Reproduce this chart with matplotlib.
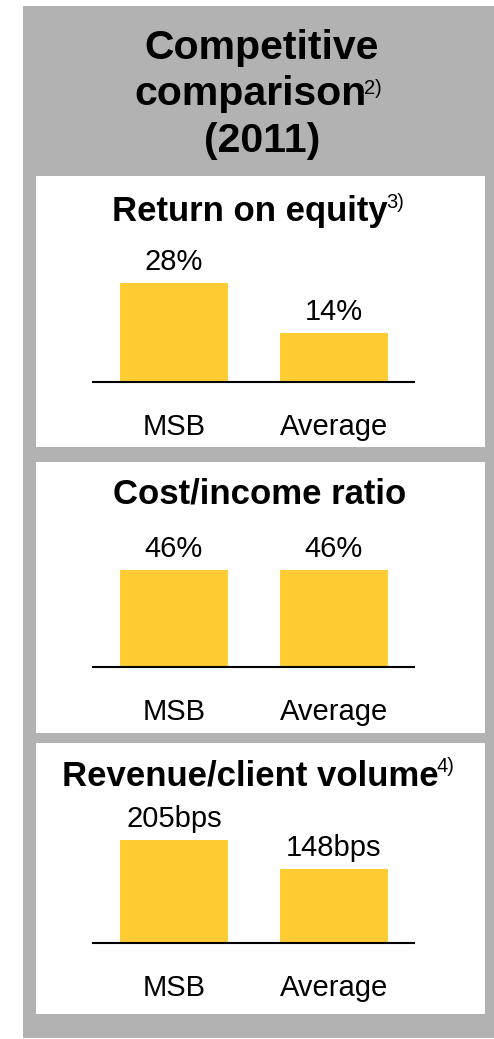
import matplotlib.pyplot as plt
from matplotlib.patches import Rectangle

plt.rcParams['font.family'] = ['Liberation Sans', 'DejaVu Sans']

# data
categories = ['MSB', 'Average']
panel_titles = ['Return on equity', 'Cost/income ratio', 'Revenue/client volume']
panel_notes = ['3)', '', '4)']
roe = [28, 14]
cost_income = [46, 46]
revenue_bps = [205, 148]
value_labels = [['28%', '14%'], ['46%', '46%'], ['205bps', '148bps']]

W, H = 494, 1039
BAR_COLOR = '#FFCC33'
GRAY = '#B2B2B2'

fig = plt.figure(figsize=(W / 100, H / 100), dpi=100)
bg = fig.add_axes([0, 0, 1, 1])
bg.set_xlim(0, W)
bg.set_ylim(H, 0)
bg.axis('off')

# frame
bg.add_patch(Rectangle((23, 6), W - 23, 1032, color=GRAY, lw=0))
panels = [(176, 447), (462, 733), (743, 1014)]
for top, bottom in panels:
    bg.add_patch(Rectangle((36, top), 449, bottom - top, color='white', lw=0))

# main title
title_lines = [('Competitive', 59), ('comparison', 105), ('(2011)', 152)]
for txt, yb in title_lines:
    cx = 250 if txt == 'comparison' else 262
    t = bg.text(cx, yb, txt, ha='center', va='baseline', fontsize=29.5,
                fontweight='bold')
    if txt == 'comparison':
        bg.annotate('2)', xy=(1, yb), xycoords=(t, 'data'), xytext=(-2, 11),
                    textcoords='offset pixels', ha='left', va='baseline',
                    fontsize=14.5)

# subtitle baselines and chart baselines (pixels)
sub_y = [221, 503, 785]
base_y = [382, 667, 943]
max_px = [99, 97, 103]
series = [roe, cost_income, revenue_bps]

for i in range(3):
    cx = 260 - (10 if panel_notes[i] else 0)
    t = bg.text(cx, sub_y[i], panel_titles[i], ha='center', va='baseline',
                fontsize=25, fontweight='bold')
    if panel_notes[i]:
        bg.annotate(panel_notes[i], xy=(1, sub_y[i]), xycoords=(t, 'data'),
                    xytext=(-2, 13), textcoords='offset pixels', ha='left',
                    va='baseline', fontsize=14.5)

    vals = series[i]
    ax_h = 120
    ax = fig.add_axes([93 / W, 1 - base_y[i] / H, 321 / W, ax_h / H])
    ax.patch.set_alpha(0)
    ax.bar([0, 1], vals, width=0.67, color=BAR_COLOR, zorder=1)
    ax.set_xlim(-0.506, 1.5)
    ax.set_ylim(0, max(vals) * ax_h / max_px[i])
    for s in ['top', 'left', 'right']:
        ax.spines[s].set_visible(False)
    ax.spines['bottom'].set_linewidth(1.5)
    ax.spines['bottom'].set_zorder(3)
    ax.set_xticks([])
    ax.set_yticks([])
    for j, v in enumerate(vals):
        ax.annotate(value_labels[i][j], xy=(j, v), xytext=(0, 13),
                    textcoords='offset pixels', ha='center', va='baseline',
                    fontsize=21, annotation_clip=False)
        ax.annotate(categories[j], xy=(j, 0), xytext=(0, -53),
                    textcoords='offset pixels', ha='center', va='baseline',
                    fontsize=21, annotation_clip=False)

fig.savefig('out.png', dpi=100)
